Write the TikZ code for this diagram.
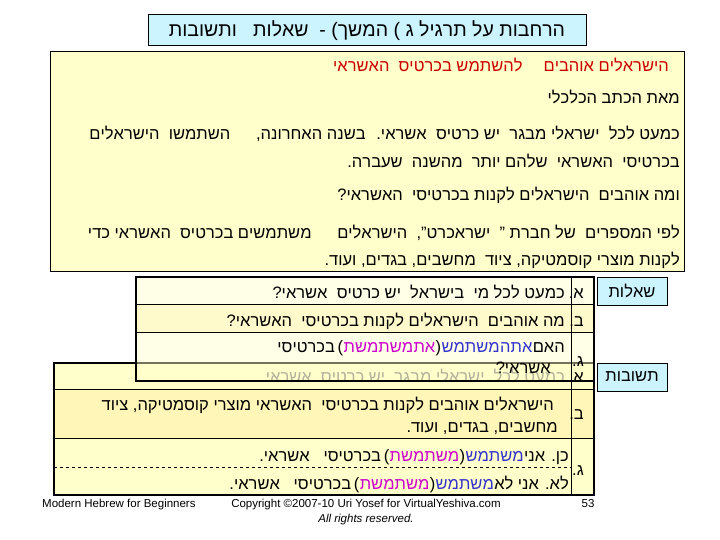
\documentclass[tikz,border=0pt]{standalone}
\usepackage{fontspec}
\setmainfont{Liberation Sans}
\TeXXeTstate=1
\definecolor{cy}{HTML}{CCF4FF}
\definecolor{yl}{HTML}{FFFFCC}
\definecolor{yl2}{HTML}{FFF6B8}
\definecolor{bl}{HTML}{3333CC}
\definecolor{mg}{HTML}{CC00CC}
\definecolor{rd}{HTML}{CC0000}
\newcommand{\R}[1]{\beginR #1\endR}
\tikzset{ht/.style={anchor=base east,inner sep=0pt,font=\fontsize{16.5}{19}\selectfont},
 seg/.style={ht,anchor=base east,inner sep=0pt},
 box/.style={draw=black,line width=1pt},
 tab/.style={draw=black,line width=1.6pt}}
\begin{document}
\begin{tikzpicture}[x=1pt,y=-1pt]
\useasboundingbox (0,0) rectangle (720,540);
% title
\draw[box,fill=cy] (148,15) rectangle (586,46);
\node[inner sep=0pt,font=\fontsize{19.5}{22}\selectfont] (title) at (367,31) {\R{הרחבות על תרגיל ג ( המשך) - \ שאלות \ \ ותשובות}};
% main box
\draw[box,fill=yl] (50,52) rectangle (684,271);
\node[ht,text=rd] (l1) at (669,72) {\R{הישראלים אוהבים \quad להשתמש בכרטיס \ האשראי}};
\node[ht] (l2) at (680,104) {\R{מאת הכתב הכלכלי}};
\node[ht] (l3) at (680,140) {\R{כמעט לכל \ ישראלי מבגר \ יש כרטיס \ אשראי. \ בשנה האחרונה, \quad\ השתמשו \ הישראלים}};
\node[ht] (l4) at (680,168) {\R{בכרטיסי \ האשראי \ שלהם יותר \ מהשנה \ שעברה.}};
\node[ht] (l5) at (680,201) {\R{ומה אוהבים \ הישראלים לקנות בכרטיסי \ האשראי?}};
\node[ht] (l6) at (680,238) {\R{לפי המספרים \ של חברת " \ ישראכרט", \ הישראלים \quad\ משתמשים בכרטיס \ האשראי כדי}};
\node[ht] (l7) at (680,265) {\R{לקנות מוצרי קוסמטיקה, ציוד \ מחשבים, בגדים, ועוד.}};
% answers table
\fill[yl] (54,363) rectangle (594,495);
\fill[yl2] (54,389) rectangle (594,438);
\draw[black] (54,389) -- (594,389) (54,438) -- (594,438) (571,363) -- (571,495);
\draw[dashed] (54,467) -- (571,467);
\draw[tab] (54,363) rectangle (594,495);
\node[ht,text=black!55] (aa) at (565,382) {\R{כמעט לכל \ ישראלי מבגר \ יש כרטיס \ אשראי.}};
\node[ht] (ab1) at (554,410) {\R{הישראלים אוהבים לקנות בכרטיסי \ האשראי מוצרי קוסמטיקה, ציוד}};
\node[ht] (ab2) at (558,432) {\R{מחשבים, בגדים, ועוד.}};
\node[ht] (abl) at (584,419) {\R{ב.}};
% answer c, yes
\node[seg] (c1a) at (569,461) {\R{כן. אני}\hspace{14pt}};
\node[seg,text=bl] (c1b) at (c1a.base west) {\R{משתמש}\hspace{12pt}};
\node[seg] (c1c) at (c1b.base west) {)\hspace{12pt}};
\node[seg,text=mg] (c1d) at (c1c.base west) {\R{משתמשת}};
\node[seg] (c1e) at (c1d.base west) {\R{בכרטיסי \ \ אשראי.}\,(};
% answer c, no
\node[seg] (c2a) at (569,489) {\R{לא. אני לא}\hspace{14pt}};
\node[seg,text=bl] (c2b) at (c2a.base west) {\R{משתמש}\hspace{12pt}};
\node[seg] (c2c) at (c2b.base west) {)\hspace{12pt}};
\node[seg,text=mg] (c2d) at (c2c.base west) {\R{משתמשת}};
\node[seg] (c2e) at (c2d.base west) {\R{בכרטיסי \ \ אשראי.}\,(};
\node[ht] (acl) at (584,475) {\R{ג.}};
% questions table
\fill[yl,fill opacity=0.45] (136,277) rectangle (594,381);
\fill[yl2,fill opacity=0.6] (136,304) rectangle (594,332);
\draw[black] (136,304) -- (594,304) (136,332) -- (594,332) (571,277) -- (571,381);
\draw[tab] (136,277) rectangle (594,381);
\node[ht] (qa) at (565,298) {\R{כמעט לכל מי \ בישראל \ יש כרטיס \ אשראי?}};
\node[ht] (qal) at (584,298) {\R{א.}};
\node[ht] (qb) at (565,326) {\R{מה אוהבים \ הישראלים לקנות בכרטיסי \ האשראי?}};
\node[ht] (qbl) at (584,326) {\R{ב.}};
\node[seg] (q1a) at (565,352) {\R{האם}\hspace{5pt}};
\node[seg,text=bl] (q1b) at (q1a.base west) {\R{אתה}\hspace{22pt}};
\node[seg,text=bl] (q1c) at (q1b.base west) {\R{משתמש}\hspace{2pt}};
\node[seg] (q1d) at (q1c.base west) {)};
\node[seg,text=mg] (q1e) at (q1d.base west) {\R{את}\hspace{22pt}};
\node[seg,text=mg] (q1f) at (q1e.base west) {\R{משתמשת}};
\node[seg] (q1g) at (q1f.base west) {\R{בכרטיסי}\,(};
\node[ht] (qc2) at (551,373) {\R{אשראי?}};
\node[ht] (qcl) at (584,366) {\R{ג.}};
\node[ht] (aal) at (584,382) {\R{א.}};
% side labels
\draw[box,fill=cy] (597,277) rectangle (667,305);
\node[inner sep=0pt,font=\fontsize{16.5}{19}\selectfont] (sq) at (632,291) {\R{שאלות}};
\draw[box,fill=cy] (597,363) rectangle (667,391);
\node[inner sep=0pt,font=\fontsize{16.5}{19}\selectfont] (sa) at (632,377) {\R{תשובות}};
% footer
\node[anchor=base west,inner sep=0pt,font=\fontsize{11.5}{13}\selectfont] (f1) at (42,507) {Modern Hebrew for Beginners};
\node[anchor=base,inner sep=0pt,font=\fontsize{11.5}{13}\selectfont] (f2) at (366,507) {Copyright ©2007-10 Uri Yosef for VirtualYeshiva.com};
\node[anchor=base,inner sep=0pt,font=\fontsize{11.5}{13}\selectfont] (f3) at (588,507) {53};
\node[anchor=base,inner sep=0pt,font=\itshape\fontsize{11.5}{13}\selectfont] (f4) at (366,522) {All rights reserved.};
\end{tikzpicture}
\end{document}
